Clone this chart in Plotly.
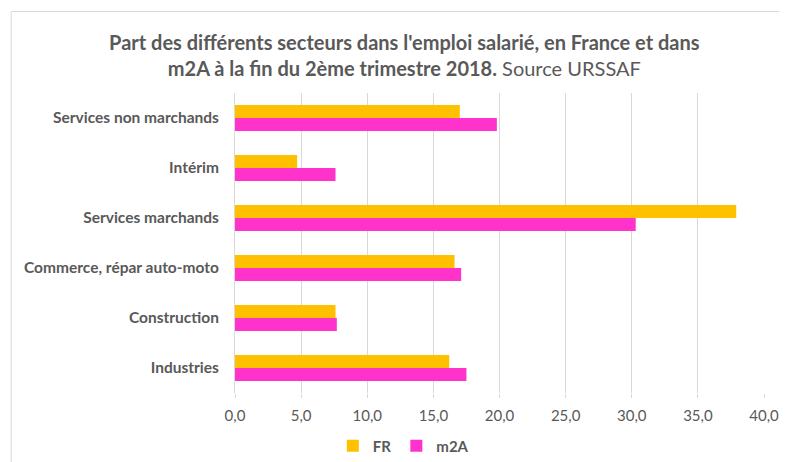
import plotly.graph_objects as go

categories = ["Services non marchands", "Intérim", "Services marchands",
              "Commerce, répar auto-moto", "Construction", "Industries"]
fr_values = [17.0, 4.7, 37.9, 16.6, 7.6, 16.2]
m2a_values = [19.8, 7.6, 30.3, 17.1, 7.7, 17.5]
x_ticks = [0, 5, 10, 15, 20, 25, 30, 35, 40]

FONT = "Lato"
GREY = "#595959"

fig = go.Figure()
fig.add_trace(go.Bar(y=categories, x=fr_values, name="FR", orientation="h",
                     marker=dict(color="#FFC000", line=dict(width=0))))
fig.add_trace(go.Bar(y=categories, x=m2a_values, name="m2A", orientation="h",
                     marker=dict(color="#FF33CC", line=dict(width=0))))

# page is offset by the default 8px body margin
OFF = 8
W, H = 787 - OFF, 462 - OFF
L, R, T = 234.5 - OFF, 787 - 764, 93 - OFF
ph = 300
B = H - T - ph
pw = W - L - R


def px(xp):
    return (xp - OFF - L) / pw


def py(yp):
    return (T + ph - (yp - OFF)) / ph


fig.update_layout(
    width=W, height=H,
    margin=dict(l=L, r=R, t=T, b=B, autoexpand=False),
    paper_bgcolor="white", plot_bgcolor="white",
    barmode="group", bargap=0.48, bargroupgap=0.0,
    separators=", ",
    font=dict(family=FONT, color=GREY),
    title=dict(
        text="<b>Part des différents secteurs dans l'emploi salarié, en France et dans<br>"
             "m2A à la fin du 2ème trimestre 2018.</b> Source URSSAF",
        x=px(404), xref="paper", xanchor="center",
        y=1 - (50 - OFF) / H, yref="container", yanchor="middle",
        font=dict(family=FONT, size=20, color=GREY),
    ),
    xaxis=dict(range=[0, 40], tickvals=x_ticks, tickformat=".1f",
               showgrid=True, gridcolor="#d9d9d9", gridwidth=1,
               zeroline=False, showline=False,
               ticks="outside", ticklen=4, tickcolor="#d9d9d9",
               tickfont=dict(family=FONT, size=15, color=GREY),
               ticklabelstandoff=5, ticklabeloverflow="allow", fixedrange=True),
    yaxis=dict(autorange="reversed", type="category",
               showline=True, linecolor="#d9d9d9", linewidth=1,
               showgrid=False, ticks="", ticklabelstandoff=12,
               tickfont=dict(family=FONT, size=15.5, color=GREY, weight="bold")),
    legend=dict(orientation="h", x=px(403), xanchor="center",
                y=py(446), yanchor="middle",
                font=dict(family=FONT, size=15, color=GREY, weight="bold"),
                itemwidth=30, traceorder="normal"),
    showlegend=True,
    shapes=[
        dict(type="line", xref="paper", yref="paper",
             x0=px(10.5), x1=px(10.5), y0=py(11.5), y1=py(480),
             line=dict(color="#d9d9d9", width=1)),
        dict(type="line", xref="paper", yref="paper",
             x0=px(10.5), x1=px(800), y0=py(11.5), y1=py(11.5),
             line=dict(color="#d9d9d9", width=1)),
    ],
)

fig.write_html("out.html")
